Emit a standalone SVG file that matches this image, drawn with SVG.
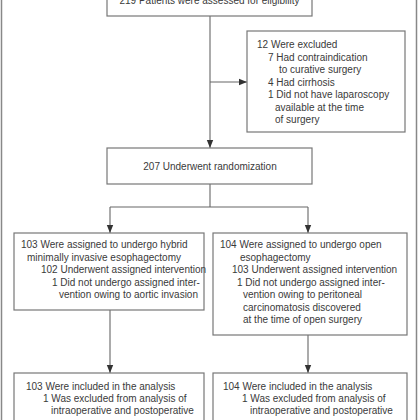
<svg xmlns="http://www.w3.org/2000/svg" width="420" height="420" viewBox="0 0 420 420">
<defs>
<marker id="ah" viewBox="0 0 8 8" refX="8" refY="4" markerWidth="8" markerHeight="8" markerUnits="userSpaceOnUse" orient="auto">
<path d="M0,0.8 L8,4 L0,7.2 Z" fill="#333"/>
</marker>
<style>
.box{fill:#fff;stroke:#777;stroke-width:1.2}
.ln{fill:none;stroke:#666;stroke-width:1.1}
.arr{fill:none;stroke:#666;stroke-width:1.1;marker-end:url(#ah)}
text{font-family:"Liberation Sans",Arial,sans-serif;font-size:10px;fill:#3a3a3a}
.frame{stroke:#888;stroke-width:1.5}
</style>
</defs>
<rect width="420" height="420" fill="#fff"/>
<line class="frame" x1="1.5" y1="0" x2="1.5" y2="420"/>
<line class="frame" x1="416.5" y1="0" x2="416.5" y2="420"/>
<g id="connectors">
<line class="arr" x1="210" y1="16" x2="210" y2="148"/>
<line class="arr" x1="210" y1="82" x2="247" y2="82"/>
<line class="ln" x1="210" y1="184" x2="210" y2="207"/>
<line class="ln" x1="110" y1="207" x2="308" y2="207"/>
<line class="arr" x1="110" y1="207" x2="110" y2="233"/>
<line class="arr" x1="308" y1="207" x2="308" y2="233"/>
<line class="arr" x1="110" y1="310" x2="110" y2="373"/>
<line class="arr" x1="308" y1="335" x2="308" y2="373"/>
</g>
<g id="assessed">
<rect class="box" x="107" y="-30" width="205" height="46"/>
<text x="209.5" y="4" text-anchor="middle">219 Patients were assessed for eligibility</text>
</g>
<g id="excluded">
<rect class="box" x="247" y="31" width="158" height="101"/>
<text x="257" y="48">12 Were excluded</text>
<text x="268" y="60.5">7 Had contraindication</text>
<text x="279" y="73">to curative surgery</text>
<text x="268" y="85.5">4 Had cirrhosis</text>
<text x="268" y="98">1 Did not have laparoscopy</text>
<text x="275" y="110.5">available at the time</text>
<text x="275" y="123">of surgery</text>
</g>
<g id="randomization">
<rect class="box" x="107" y="148" width="205" height="36"/>
<text x="210" y="170" text-anchor="middle">207 Underwent randomization</text>
</g>
<g id="hybrid">
<rect class="box" x="14" y="233" width="190" height="77"/>
<text x="21" y="248">103 Were assigned to undergo hybrid</text>
<text x="27" y="260.5">minimally invasive esophagectomy</text>
<text x="41" y="273">102 Underwent assigned intervention</text>
<text x="52" y="285.5">1 Did not undergo assigned inter-</text>
<text x="59" y="298">vention owing to aortic invasion</text>
</g>
<g id="open">
<rect class="box" x="213" y="233" width="194" height="102"/>
<text x="220" y="248">104 Were assigned to undergo open</text>
<text x="240" y="260.5">esophagectomy</text>
<text x="232" y="273">103 Underwent assigned intervention</text>
<text x="237" y="285.5">1 Did not undergo assigned inter-</text>
<text x="243" y="298">vention owing to peritoneal</text>
<text x="243" y="310.5">carcinomatosis discovered</text>
<text x="243" y="323">at the time of open surgery</text>
</g>
<g id="analysis-hybrid">
<rect class="box" x="14" y="373" width="190" height="70"/>
<text x="26" y="390">103 Were included in the analysis</text>
<text x="43" y="402">1 Was excluded from analysis of</text>
<text x="51" y="414">intraoperative and postoperative</text>
</g>
<g id="analysis-open">
<rect class="box" x="213" y="373" width="194" height="70"/>
<text x="223" y="390">104 Were included in the analysis</text>
<text x="242" y="402">1 Was excluded from analysis of</text>
<text x="250" y="414">intraoperative and postoperative</text>
</g>
</svg>
